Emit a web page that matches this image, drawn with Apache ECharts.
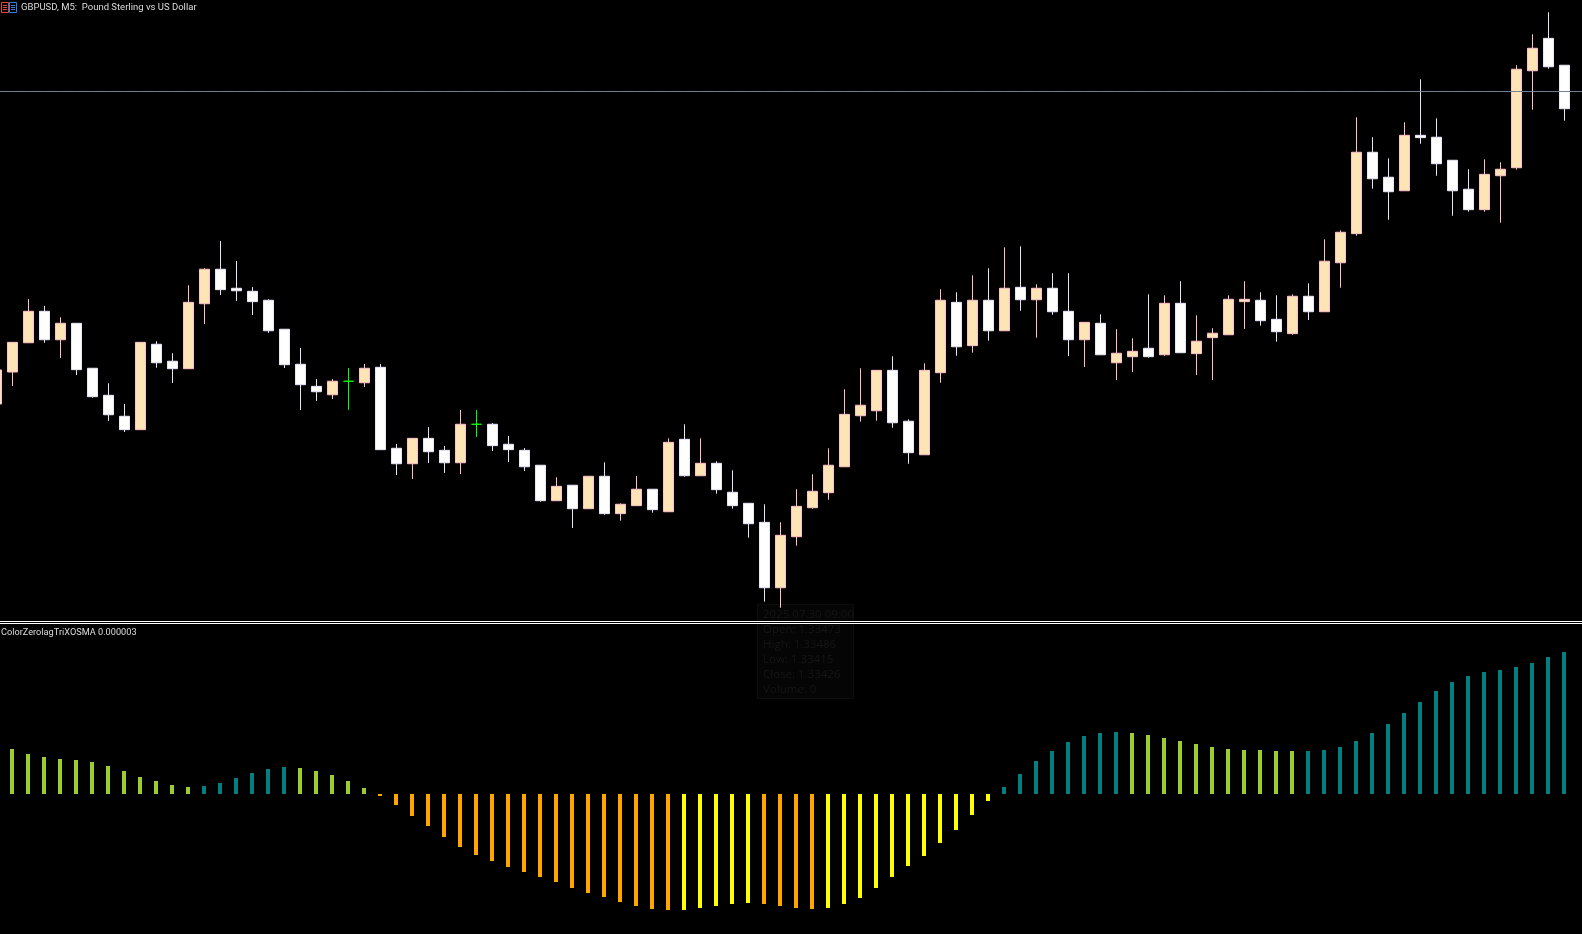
<!DOCTYPE html>
<html>
<head>
<meta charset="utf-8">
<title>GBPUSD, M5</title>
<script src="https://cdn.jsdelivr.net/npm/echarts@6/dist/echarts.min.js"></script>
<style>
    html, body { margin: 0; padding: 0; background: #000; overflow: hidden; }
    #chart { width: 1582px; height: 934px; }
</style>
</head>
<body>
<div id="chart"></div>
<script>
// 5 minute bars of 2025.07.30, the last categories are the empty slots right of the last bar
var categories = [
    '05:00','05:05','05:10','05:15','05:20','05:25','05:30','05:35','05:40','05:45','05:50','05:55',
    '06:00','06:05','06:10','06:15','06:20','06:25','06:30','06:35','06:40','06:45','06:50','06:55',
    '07:00','07:05','07:10','07:15','07:20','07:25','07:30','07:35','07:40','07:45','07:50','07:55',
    '08:00','08:05','08:10','08:15','08:20','08:25','08:30','08:35','08:40','08:45','08:50','08:55',
    '09:00','09:05','09:10','09:15','09:20','09:25','09:30','09:35','09:40','09:45','09:50','09:55',
    '10:00','10:05','10:10','10:15','10:20','10:25','10:30','10:35','10:40','10:45','10:50','10:55',
    '11:00','11:05','11:10','11:15','11:20','11:25','11:30','11:35','11:40','11:45','11:50','11:55',
    '12:00','12:05','12:10','12:15','12:20','12:25','12:30','12:35','12:40','12:45','12:50','12:55',
    '13:00','13:05','13:10','13:15','13:20'
];

var opens = [
    1.335583,1.335815,1.336027,1.336255,1.336049,1.336168,1.335842,1.335646,1.335494,1.335397,
    1.336016,1.335893,1.335839,1.336310,1.336560,1.336422,1.336400,1.336335,1.336125,1.335871,
    1.335711,1.335650,1.335748,1.335737,1.335849,1.335262,1.335150,1.335334,1.335247,1.335157,
    1.335436,1.335436,1.335291,1.335247,1.335139,1.334882,1.334994,1.334824,1.335059,1.334788,
    1.334846,1.334965,1.334802,1.335327,1.335063,1.335153,1.334943,1.334863,1.334725,1.334251,
    1.334621,1.334831,1.334940,1.335128,1.335498,1.335534,1.335827,1.335458,1.335215,1.335810,
    1.336320,1.336006,1.336335,1.336114,1.336429,1.336339,1.336422,1.336255,1.336049,1.336168,
    1.335882,1.335926,1.335987,1.335940,1.336313,1.335948,1.336064,1.336085,1.336325,1.336335,
    1.336197,1.336093,1.336364,1.336252,1.336607,1.336818,1.337408,1.337227,1.337129,1.337531,
    1.337517,1.337350,1.337140,1.336992,1.337238,1.337296,1.337999,1.338234,1.338039
];
var closes = [
    1.335830,1.336030,1.336255,1.336049,1.336168,1.335832,1.335636,1.335505,1.335397,1.336030,
    1.335882,1.335839,1.336320,1.336560,1.336412,1.336404,1.336325,1.336114,1.335868,1.335723,
    1.335672,1.335748,1.335748,1.335842,1.335252,1.335150,1.335334,1.335237,1.335157,1.335436,
    1.335436,1.335281,1.335252,1.335128,1.334882,1.334986,1.334824,1.335059,1.334788,1.334856,
    1.334965,1.334817,1.335305,1.335063,1.335153,1.334962,1.334846,1.334715,1.334251,1.334631,
    1.334841,1.334950,1.335139,1.335508,1.335574,1.335827,1.335447,1.335230,1.335827,1.336335,
    1.335998,1.336335,1.336114,1.336422,1.336339,1.336422,1.336252,1.336049,1.336175,1.335940,
    1.335951,1.335965,1.335926,1.336313,1.335955,1.336038,1.336096,1.336342,1.336342,1.336187,
    1.336107,1.336364,1.336252,1.336618,1.336828,1.337408,1.337216,1.337122,1.337531,1.337514,
    1.337325,1.337129,1.336992,1.337248,1.337285,1.338010,1.338162,1.338028,1.337724
];
var lows = [
    1.335583,1.335714,1.336027,1.336027,1.335917,1.335793,1.335629,1.335460,1.335380,1.335397,
    1.335846,1.335735,1.335839,1.336163,1.336373,1.336330,1.336228,1.336098,1.335844,1.335540,
    1.335605,1.335619,1.335540,1.335706,1.335252,1.335068,1.335039,1.335155,1.335083,1.335075,
    1.335344,1.335242,1.335162,1.335097,1.334875,1.334882,1.334684,1.334824,1.334780,1.334737,
    1.334846,1.334795,1.334802,1.335056,1.335063,1.334933,1.334824,1.334614,1.334150,1.334106,
    1.334556,1.334824,1.334889,1.335128,1.335455,1.335462,1.335411,1.335150,1.335215,1.335737,
    1.335933,1.335955,1.336042,1.336114,1.336259,1.336064,1.336230,1.335931,1.335851,1.335940,
    1.335757,1.335815,1.335919,1.335933,1.335955,1.335793,1.335757,1.336085,1.336127,1.336151,
    1.336035,1.336085,1.336192,1.336252,1.336426,1.336803,1.337144,1.336919,1.337129,1.337470,
    1.337238,1.336948,1.336977,1.336977,1.336897,1.337282,1.337717,1.338014,1.337637
];
var highs = [
    1.335830,1.336030,1.336344,1.336294,1.336212,1.336168,1.335842,1.335733,1.335583,1.336030,
    1.336038,1.335951,1.336444,1.336567,1.336765,1.336620,1.336431,1.336342,1.336125,1.335989,
    1.335764,1.335764,1.335844,1.335873,1.335873,1.335293,1.335334,1.335416,1.335278,1.335540,
    1.335540,1.335445,1.335351,1.335264,1.335139,1.335052,1.334994,1.335059,1.335160,1.334863,
    1.335061,1.334965,1.335334,1.335436,1.335334,1.335168,1.335102,1.334863,1.334856,1.334725,
    1.334965,1.335073,1.335262,1.335690,1.335842,1.335827,1.335929,1.335472,1.335878,1.336415,
    1.336393,1.336516,1.336567,1.336719,1.336726,1.336451,1.336531,1.336531,1.336175,1.336233,
    1.336125,1.336059,1.336378,1.336371,1.336473,1.336226,1.336132,1.336371,1.336473,1.336393,
    1.336371,1.336378,1.336458,1.336777,1.336842,1.337662,1.337517,1.337364,1.337625,1.337937,
    1.337654,1.337350,1.337285,1.337357,1.337335,1.338039,1.338263,1.338423,1.338039
];

// horizontal price line
var bidLine = 1.3378486;

// oscillator, in millionths
var oscValues = [
    null,45,40,37,35,34,32,28,23,17,
    13,9,7,8,11,16,21,25,27,26,
    23,19,13,6,-2,-11,-22,-32,-43,-53,
    -61,-67,-73,-78,-83,-88,-94,-99,-103,-108,
    -112,-115,-116,-116,-114,-112,-110,-109,-110,-112,
    -114,-115,-114,-110,-104,-94,-83,-72,-62,-49,
    -36,-21,-7,7,20,33,43,52,58,61,
    62,61,59,56,53,50,47,45,44,44,
    43,43,43,44,47,53,61,70,81,92,
    103,112,118,122,124,127,131,137,142
];
// indicator colour buffer: 0 falling above zero, 1 rising above zero, 2 falling below zero, 3 rising below zero
var oscState = [
    0,0,0,0,0,0,0,0,0,0,
    0,0,0,1,1,1,1,1,1,0,
    0,0,0,0,2,2,2,2,2,2,
    2,2,2,2,2,2,2,2,2,2,
    2,2,2,3,3,3,3,3,2,2,
    2,2,3,3,3,3,3,3,3,3,
    3,3,3,1,1,1,1,1,1,1,
    1,0,0,0,0,0,0,0,0,0,
    0,0,1,1,1,1,1,1,1,1,
    1,1,1,1,1,1,1,1,1
];
var oscPalette = ['#9acd32', '#008080', '#ffa500', '#ffff00'];

var tooltipLines = [
    '2025.07.30 09:00', 'Open: 1.33473', 'High: 1.33486', 'Low: 1.33415', 'Close: 1.33426', 'Volume: 0'
];

var candles = opens.map(function (o, i) {
    return [o, closes[i], lows[i], highs[i]];
});

var textFont = 'Roboto, sans-serif';

// leftover data box of the terminal, nearly black on black
var tooltipGraphics = [{
    type: 'rect',
    shape: { x: 757.5, y: 604.5, width: 96, height: 94 },
    style: { fill: '#050505', stroke: '#0d0d0d', lineWidth: 1 },
    z: -2
}].concat(tooltipLines.map(function (line, i) {
    return {
        type: 'text',
        x: 763,
        y: 608.5 + i * 15,
        style: { text: line, fill: '#161616', font: '11.5px "Open Sans", sans-serif' },
        z: -1
    };
}));

// small bars icon left of the symbol name
var iconGraphics = [
    { type: 'rect', shape: { x: 1.5, y: 2.5, width: 7, height: 10 }, style: { fill: '#000', stroke: '#e0453a', lineWidth: 1 } },
    { type: 'rect', shape: { x: 9.5, y: 2.5, width: 7, height: 10 }, style: { fill: '#000', stroke: '#2f7fe6', lineWidth: 1 } },
    { type: 'rect', shape: { x: 3, y: 5, width: 4, height: 1 }, style: { fill: '#e0453a' } },
    { type: 'rect', shape: { x: 3, y: 7, width: 4, height: 1 }, style: { fill: '#e0453a' } },
    { type: 'rect', shape: { x: 3, y: 9, width: 4, height: 1 }, style: { fill: '#e0453a' } },
    { type: 'rect', shape: { x: 11, y: 5, width: 4, height: 1 }, style: { fill: '#2f7fe6' } },
    { type: 'rect', shape: { x: 11, y: 7, width: 4, height: 1 }, style: { fill: '#2f7fe6' } },
    { type: 'rect', shape: { x: 11, y: 9, width: 4, height: 1 }, style: { fill: '#2f7fe6' } }
];

var chart = echarts.init(document.getElementById('chart'));
chart.setOption({
    animation: false,
    backgroundColor: '#000',
    title: [
        {
            text: 'GBPUSD, M5:  Pound Sterling vs US Dollar',
            left: 21, top: 3, padding: 0,
            textStyle: { color: '#dcdcdc', fontSize: 9.5, fontWeight: 'normal', fontFamily: textFont }
        },
        {
            text: 'ColorZerolagTriXOSMA 0.000003',
            left: 1, top: 628, padding: 0,
            textStyle: { color: '#dcdcdc', fontSize: 9.2, fontWeight: 'normal', fontFamily: textFont }
        }
    ],
    graphic: tooltipGraphics.concat(iconGraphics),
    // the panes run past the window edges, first bar is cut off on the left
    grid: [
        { left: -11.5, top: 0, width: 1616, height: 621, outerBoundsMode: 'none' },
        { left: -12, top: 623, width: 1616, height: 311, outerBoundsMode: 'none' }
    ],
    xAxis: [
        {
            type: 'category', gridIndex: 0, data: categories, boundaryGap: true,
            axisLine: { show: true, onZero: false, lineStyle: { color: '#fff', width: 1 } },
            axisTick: { show: false }, axisLabel: { show: false }, splitLine: { show: false }
        },
        {
            type: 'category', gridIndex: 1, data: categories, boundaryGap: true, position: 'top',
            axisLine: { show: true, onZero: false, lineStyle: { color: '#fff', width: 1 } },
            axisTick: { show: false }, axisLabel: { show: false }, splitLine: { show: false }
        }
    ],
    yAxis: [
        {
            type: 'value', gridIndex: 0, min: 1.33400975, max: 1.338512, scale: true,
            axisLine: { show: false }, axisTick: { show: false }, axisLabel: { show: false }, splitLine: { show: false }
        },
        {
            type: 'value', gridIndex: 1, min: -140, max: 171,
            axisLine: { show: false }, axisTick: { show: false }, axisLabel: { show: false }, splitLine: { show: false }
        }
    ],
    series: [
        {
            name: 'Bid',
            type: 'line',
            xAxisIndex: 0,
            yAxisIndex: 0,
            symbol: 'none',
            silent: true,
            lineStyle: { color: '#708090', width: 1 },
            data: categories.map(function () { return bidLine; })
        },
        {
            name: 'GBPUSD',
            type: 'candlestick',
            xAxisIndex: 0,
            yAxisIndex: 0,
            barWidth: 10,
            data: candles,
            silent: true,
            itemStyle: {
                color: '#ffe4b5',
                color0: '#ffffff',
                borderColor: '#ffc0cb',
                borderColor0: '#e6e6fa',
                borderColorDoji: '#00ff00',
                borderWidth: 1
            }
        },
        {
            name: 'ColorZerolagTriXOSMA',
            type: 'bar',
            xAxisIndex: 1,
            yAxisIndex: 1,
            barWidth: 4,
            silent: true,
            data: oscValues,
            itemStyle: {
                color: function (params) {
                    return oscPalette[oscState[params.dataIndex]];
                }
            }
        }
    ]
});
</script>
</body>
</html>
